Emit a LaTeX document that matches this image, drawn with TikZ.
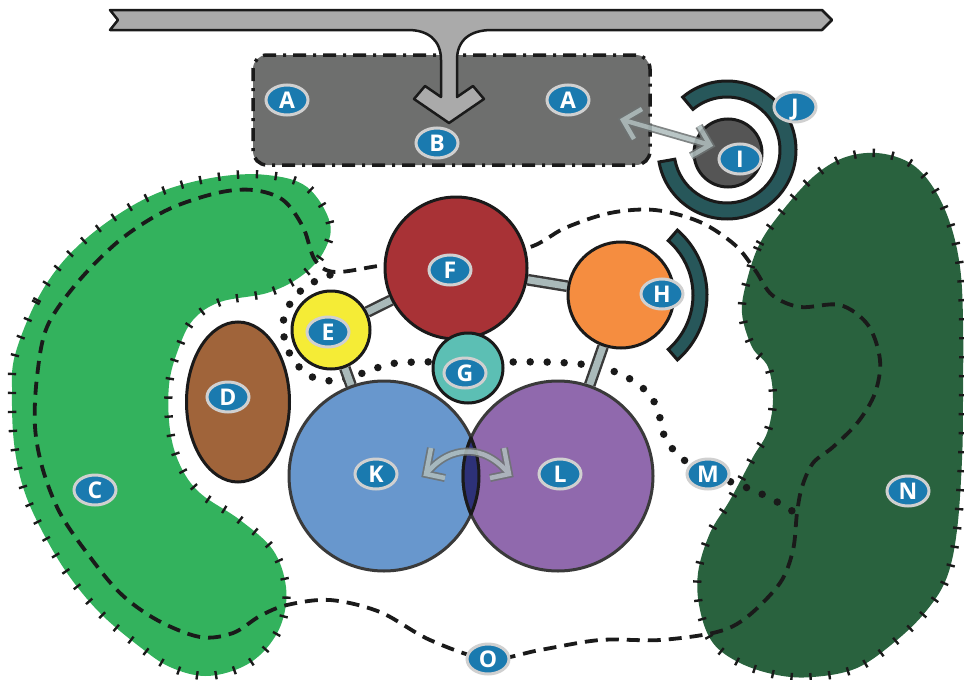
\documentclass[tikz,border=0pt]{standalone}
\usepackage{fontspec}
\newfontfamily\lblfont{Open Sans}
\usetikzlibrary{shapes.geometric,decorations.markings}
\definecolor{cC}{HTML}{33B25D}
\definecolor{cN}{HTML}{29623E}
\definecolor{cBox}{HTML}{6E6F6E}
\definecolor{cBar}{HTML}{AAAAAA}
\definecolor{cI}{HTML}{555555}
\definecolor{cJ}{HTML}{27575A}
\definecolor{cF}{HTML}{A83236}
\definecolor{cE}{HTML}{F5EC36}
\definecolor{cG}{HTML}{5CBFB4}
\definecolor{cH}{HTML}{F58D40}
\definecolor{cK}{HTML}{6897CD}
\definecolor{cL}{HTML}{9069AD}
\definecolor{cLens}{HTML}{2D3178}
\definecolor{cD}{HTML}{A0643A}
\definecolor{lblblue}{HTML}{1A7AAF}
\definecolor{lblborder}{HTML}{D0D0D0}
\definecolor{outl}{HTML}{1A1A1A}
\definecolor{cKL}{HTML}{3A3A3A}
\definecolor{arrowfill}{HTML}{AFBDBD}
\definecolor{arrowline}{HTML}{6E7373}
\definecolor{barlight}{HTML}{A9B9B9}
\pgfdeclarelayer{back}
\pgfdeclarelayer{mid}
\pgfsetlayers{back,mid,main}
\begin{document}
\begin{tikzpicture}[x=1pt,y=-1pt,
  lbl/.style={ellipse, draw=lblborder, line width=3pt, fill=lblblue, text=white,
    inner sep=0pt, minimum width=42pt, minimum height=30pt,
    font=\lblfont\bfseries\fontsize{23}{23}\selectfont, text height=16.5pt, text depth=0pt},
  circ/.style={circle, draw=outl, line width=3pt, inner sep=0pt},
  ticked/.style={postaction={decorate, decoration={markings,
    mark=between positions 0 and 1 step 19pt with {\draw[line width=2.4pt, outl] (0,-4.2pt) -- (0,4.2pt);}}}},
  dashloop/.style={draw=outl, line width=3.8pt, dash pattern=on 13pt off 8pt},
  dotline/.style={draw=outl, line width=7.5pt, dash pattern=on 0pt off 17pt, line cap=round},
  linkbar/.style={draw=cKL, double=barlight, line width=2.4pt, double distance=7pt},
  outlarrow/.style={draw=arrowline, line width=8pt, line join=miter},
  outlarrowin/.style={draw=arrowfill, line width=4.5pt, line join=miter}
]
\useasboundingbox (0,0) rectangle (964,680);

\begin{pgfonlayer}{back}
% C shape
\fill[cC, ticked] plot[smooth cycle, tension=0.6] coordinates {
 (15,355) (37,300) (67,257) (110,220) (160,192) (217,177) (267,175) (307,187)
 (330,223) (323,253) (300,277) (267,293) (220,302) (193,320) (178,350) (169,385)
 (170,430) (180,465) (200,493) (240,520) (273,550) (286,587) (282,622) (265,650)
 (240,668) (205,676) (170,667) (140,647) (100,613) (67,573) (40,527) (23,487)
 (14,443) (12,393)};
% N shape
\fill[cN, ticked] plot[smooth cycle, tension=0.6] coordinates {
 (747,280) (760,243) (783,210) (813,177) (843,158) (877,153) (910,163) (933,187)
 (950,223) (960,267) (963,320) (963,400) (962,460) (957,530) (947,577) (927,610)
 (897,640) (857,668) (813,677) (777,675) (740,663) (713,643) (700,610) (698,573)
 (710,533) (730,500) (753,457) (767,433) (773,400) (768,367) (752,347) (742,313)};
% O dashed loop
\draw[dashloop] plot[smooth cycle, tension=0.55] coordinates {
 (335,272) (385,265) (455,258) (527,248) (565,228) (610,213) (655,210) (700,222)
 (735,245) (755,270) (772,295) (800,307) (840,305) (868,325) (880,360) (875,393)
 (858,422) (833,447) (813,463) (802,487) (797,513) (793,550) (780,583) (747,617)
 (717,632) (660,640) (600,640) (540,650) (488,659) (430,640) (380,612) (330,600)
 (287,605) (260,616) (233,633) (200,637) (157,620) (120,593) (87,553) (60,513)
 (43,470) (35,427) (37,377) (47,327) (77,283) (120,240) (167,210) (217,193)
 (253,190) (283,200) (303,227) (315,260)};
% M dotted path
\draw[dotline] plot[smooth, tension=0.55] coordinates {
 (330,275) (305,287) (288,307) (283,325) (286,345) (295,362) (310,376) (335,381)
 (360,374) (390,364) (420,362) (468,362) (510,362) (545,362) (580,364) (610,370)
 (635,382) (652,398) (660,418) (666,440) (684,460) (708,474) (740,485) (770,498)
 (797,514)};
\end{pgfonlayer}

% grey box
\node[draw=outl, fill=cBox, line width=3.5pt, rounded corners=14pt,
  dash pattern=on 13pt off 7pt on 3pt off 7pt,
  minimum width=397pt, minimum height=110pt, inner sep=0pt] (box) at (451.5,110) {};

% top bar with stem arrow
\draw[fill=cBar, draw=outl, line width=2.5pt, line join=round]
 (110,10) -- (822,10) -- (832,20) -- (822,30) -- (492,30)
 .. controls (470,30) and (457,40) .. (457,60)
 -- (457,97) -- (473,86) -- (484,99) -- (449,123) -- (414,99) -- (425,86) -- (441,97)
 -- (441,60) .. controls (441,40) and (428,30) .. (408,30)
 -- (110,30) -- (118,20) -- cycle;

% circles
\node[circ, fill=cD, minimum width=103pt, minimum height=160pt, ellipse] (D) at (238,402) {};
\node[circ, fill=cK, draw=cKL, minimum size=190pt] (K) at (384,476) {};
\node[circ, fill=cL, draw=cKL, minimum size=190pt] (L) at (558,476) {};
\begin{scope}
 \clip (K.center) circle (95);
 \fill[cLens] (L.center) circle (95);
 \draw[outl, line width=3pt] (L.center) circle (95);
\end{scope}
\begin{scope}
 \clip (L.center) circle (95);
 \draw[outl, line width=3pt] (K.center) circle (95);
\end{scope}
\node[circ, fill=cE, minimum size=78pt] (E) at (331,330) {};
\node[circ, fill=cF, minimum size=142pt] (F) at (456,268) {};
\node[circ, fill=cG, minimum size=70pt] (G) at (468,368) {};
\node[circ, fill=cH, minimum size=106pt] (H) at (621,295) {};
\node[circ, fill=cI, minimum size=68pt] (Icirc) at (728,153) {};
\coordinate (Jc) at (727,150);

% link bars
\begin{pgfonlayer}{mid}
\draw[linkbar] (E) -- (F);
\draw[linkbar] (F) -- (H);
\draw[linkbar] (E) -- (K);
\draw[linkbar] (H) -- (L);
\end{pgfonlayer}

% H arc
\draw[fill=cJ, draw=outl, line width=3pt]
 ([shift={(-49:86)}]H.center) arc[start angle=-49, end angle=49, radius=86]
 -- ([shift={(49:72)}]H.center) arc[start angle=49, end angle=-49, radius=72] -- cycle;
% J ring
\draw[fill=cJ, draw=outl, line width=3pt]
 ([shift={(-130:69)}]Jc) arc[start angle=-130, end angle=170, radius=69]
 -- ([shift={(170:53)}]Jc) arc[start angle=170, end angle=-130, radius=53] -- cycle;

% straight double arrow box <-> I
\coordinate (arL) at (623,120);
\coordinate (arR) at (710,145);
\begin{scope}[transparency group, opacity=0.88]
\draw[outlarrow] (642,109) -- (arL) -- (634,139);
\draw[outlarrow] (arL) -- (arR);
\draw[outlarrow] (699,126) -- (arR) -- (691,156);
\draw[outlarrowin] (642,109) -- (arL) -- (634,139);
\draw[outlarrowin] (arL) -- (arR);
\draw[outlarrowin] (699,126) -- (arR) -- (691,156);
\end{scope}

% curved double arrow K <-> L
\coordinate (kl1) at (426,474);
\coordinate (kl2) at (509,474);
\begin{scope}[transparency group, opacity=0.88]
\draw[outlarrow] (431,448) -- (kl1) -- (445,478);
\draw[outlarrow] (kl1) .. controls (450,444) and (485,444) .. (kl2);
\draw[outlarrow] (504,448) -- (kl2) -- (490,478);
\draw[outlarrowin] (431,448) -- (kl1) -- (445,478);
\draw[outlarrowin] (kl1) .. controls (450,444) and (485,444) .. (kl2);
\draw[outlarrowin] (504,448) -- (kl2) -- (490,478);
\end{scope}

% labels
\node[lbl] (lA1) at (287,100) {A};
\node[lbl] (lA2) at (568,100) {A};
\node[lbl] (lB) at (437,143) {B};
\node[lbl] (lC) at (95,490) {C};
\node[lbl] (lD) at (228,397) {D};
\node[lbl] (lE) at (328,332) {E};
\node[lbl] (lF) at (450,270) {F};
\node[lbl] (lG) at (465,373) {G};
\node[lbl] (lH) at (662,294) {H};
\node[lbl] (lI) at (740,159) {I};
\node[lbl] (lJ) at (795,107) {J};
\node[lbl] (lK) at (376,474) {K};
\node[lbl] (lL) at (560,474) {L};
\node[lbl] (lM) at (708,474) {M};
\node[lbl] (lN) at (908,491) {N};
\node[lbl] (lO) at (488,659) {O};
\end{tikzpicture}
\end{document}
